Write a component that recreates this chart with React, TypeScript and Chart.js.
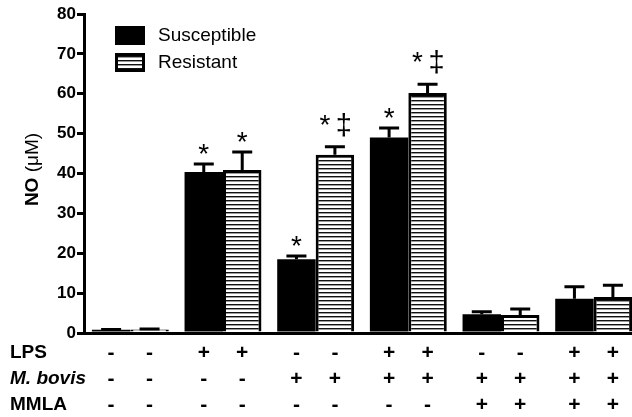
import React, { useEffect, useRef } from 'react';
import { Chart, registerables } from 'chart.js';

Chart.register(...registerables);

const groups = ['Control', 'LPS', 'M. bovis', 'LPS + M. bovis', 'M. bovis + MMLA', 'LPS + M. bovis + MMLA'];
const susceptible = [0.8, 40.4, 18.5, 49.0, 4.7, 8.6];
const susceptibleSem = [0.1, 2.0, 0.8, 2.4, 0.6, 3.0];
const resistant = [0.9, 40.9, 44.7, 60.2, 4.5, 9.0];
const resistantSem = [0.1, 4.5, 2.0, 2.2, 1.5, 3.0];
const susceptibleMarks = ['', '*', '*', '*', '', ''];
const resistantMarks = ['', '*', '*‡', '*‡', '', ''];
const rowLabels = ['LPS', 'M. bovis', 'MMLA'];
const lpsRow = ['-', '+', '-', '+', '-', '+'];
const bovisRow = ['-', '-', '+', '+', '+', '+'];
const mmlaRow = ['-', '-', '-', '-', '+', '+'];
const seriesNames = ['Susceptible', 'Resistant'];
const yTitleBold = 'NO ';
const yTitleRegular = '(μM)';

const FONT = '"Liberation Sans", Arial, Helvetica, sans-serif';

function makeStripes(): CanvasPattern | string {
  const c = document.createElement('canvas');
  c.width = 8;
  c.height = 4;
  const g = c.getContext('2d');
  if (!g) return '#fff';
  g.fillStyle = '#ffffff';
  g.fillRect(0, 0, 8, 4);
  g.fillStyle = '#111111';
  g.fillRect(0, 0, 8, 1);
  g.fillStyle = '#9a9a9a';
  g.fillRect(0, 1, 8, 1);
  return g.createPattern(c, 'repeat') || '#fff';
}

export default function App() {
  const ref = useRef<HTMLCanvasElement>(null);
  useEffect(() => {
    const canvas = ref.current;
    if (!canvas) return;
    const stripes = makeStripes();
    const sems = [susceptibleSem, resistantSem];
    const marks = [susceptibleMarks, resistantMarks];
    const rows = [lpsRow, bovisRow, mmlaRow];

    const overlay = {
      id: 'overlay',
      afterDatasetsDraw(chart: any) {
        const ctx = chart.ctx as CanvasRenderingContext2D;
        const y = chart.scales.y;
        const area = chart.chartArea;
        ctx.save();
        // error bars and significance marks
        for (let d = 0; d < 2; d++) {
          const meta = chart.getDatasetMeta(d);
          const vals = chart.data.datasets[d].data as number[];
          meta.data.forEach((el: any, i: number) => {
            const top = el.y;
            const capY = y.getPixelForValue(vals[i] + sems[d][i]);
            ctx.strokeStyle = '#000';
            ctx.lineWidth = 3;
            ctx.beginPath();
            ctx.moveTo(el.x, top);
            ctx.lineTo(el.x, capY);
            ctx.moveTo(el.x - 10, capY);
            ctx.lineTo(el.x + 10, capY);
            ctx.stroke();
            const m = marks[d][i];
            ctx.fillStyle = '#000';
            ctx.textAlign = 'center';
            ctx.textBaseline = 'alphabetic';
            if (m.includes('‡')) {
              const base = capY - 12;
              ctx.font = `28px ${FONT}`;
              ctx.fillText('*', el.x - 10, base - 1);
              ctx.font = `29px ${FONT}`;
              ctx.fillText('‡', el.x + 9, base);
            } else if (m) {
              ctx.font = `28px ${FONT}`;
              ctx.fillText('*', el.x, capY - 1);
            }
          });
        }
        // treatment table
        const rowY = [353, 379, 405].map((v) => v - 333 + area.bottom);
        ctx.textBaseline = 'middle';
        ctx.fillStyle = '#000';
        rowLabels.forEach((lab, r) => {
          ctx.textAlign = 'left';
          ctx.font = (r === 1 ? 'italic bold ' : 'bold ') + `19px ${FONT}`;
          ctx.fillText(lab, 10, rowY[r]);
          ctx.textAlign = 'center';
          ctx.font = `bold 21px ${FONT}`;
          for (let d = 0; d < 2; d++) {
            const meta = chart.getDatasetMeta(d);
            meta.data.forEach((el: any, i: number) => {
              ctx.fillText(rows[r][i], el.x, rowY[r]);
            });
          }
        });
        // y-axis title
        ctx.save();
        ctx.translate(33, (area.top + area.bottom) / 2 - 4);
        ctx.rotate(-Math.PI / 2);
        ctx.textBaseline = 'middle';
        ctx.textAlign = 'left';
        ctx.font = `bold 19px ${FONT}`;
        const w1 = ctx.measureText(yTitleBold).width;
        ctx.font = `19px ${FONT}`;
        const w2 = ctx.measureText(yTitleRegular).width;
        const start = -(w1 + w2) / 2;
        ctx.font = `bold 19px ${FONT}`;
        ctx.fillText(yTitleBold, start, 0);
        ctx.font = `19px ${FONT}`;
        ctx.fillText(yTitleRegular, start + w1, 0);
        ctx.restore();
        // legend
        const lx = area.left + 31;
        const ly = area.top + 12;
        ctx.fillStyle = '#000';
        ctx.fillRect(lx, ly, 30, 19);
        ctx.fillStyle = stripes as any;
        ctx.fillRect(lx, ly + 27, 30, 19);
        ctx.lineWidth = 3;
        ctx.strokeStyle = '#000';
        ctx.strokeRect(lx + 1.5, ly + 28.5, 27, 16);
        ctx.fillStyle = '#000';
        ctx.font = `19px ${FONT}`;
        ctx.textAlign = 'left';
        ctx.textBaseline = 'middle';
        ctx.fillText(seriesNames[0], lx + 43, ly + 10);
        ctx.fillText(seriesNames[1], lx + 43, ly + 37);
        ctx.restore();
      },
    };

    const chart = new Chart(canvas, {
      type: 'bar',
      data: {
        labels: groups,
        datasets: [
          {
            label: seriesNames[0],
            data: susceptible,
            backgroundColor: '#000',
            borderColor: '#000',
            borderWidth: 0,
          },
          {
            label: seriesNames[1],
            data: resistant,
            backgroundColor: stripes as any,
            borderColor: '#000',
            borderWidth: 3,
            borderSkipped: 'bottom',
          },
        ],
      },
      options: {
        responsive: false,
        animation: false,
        devicePixelRatio: 1,
        layout: { padding: { top: 14, right: 0, left: 0, bottom: 0 } },
        datasets: { bar: { categoryPercentage: 0.83, barPercentage: 1.0 } },
        plugins: { legend: { display: false }, tooltip: { enabled: false } },
        scales: {
          x: {
            grid: { display: false },
            ticks: { display: false },
            border: { display: true, color: '#000', width: 3 },
            afterFit: (s: any) => {
              s.height = 84;
            },
          },
          y: {
            min: 0,
            max: 80,
            ticks: {
              stepSize: 10,
              color: '#000',
              padding: 1,
              font: { family: FONT, size: 17, weight: 'bold' },
            },
            grid: {
              display: true,
              drawOnChartArea: false,
              drawTicks: true,
              tickLength: 7,
              tickColor: '#000',
              lineWidth: 3,
            },
            border: { display: true, color: '#000', width: 3 },
            title: { display: false },
            afterFit: (s: any) => {
              s.width = 84;
            },
          },
        },
      },
      plugins: [overlay],
    });
    return () => chart.destroy();
  }, []);

  return (
    <div style={{ position: 'fixed', left: 0, top: 0, width: 632, height: 417, overflow: 'hidden', background: '#fff' }}>
      <canvas ref={ref} width={640} height={417} style={{ width: 640, height: 417, display: 'block' }} />
    </div>
  );
}
